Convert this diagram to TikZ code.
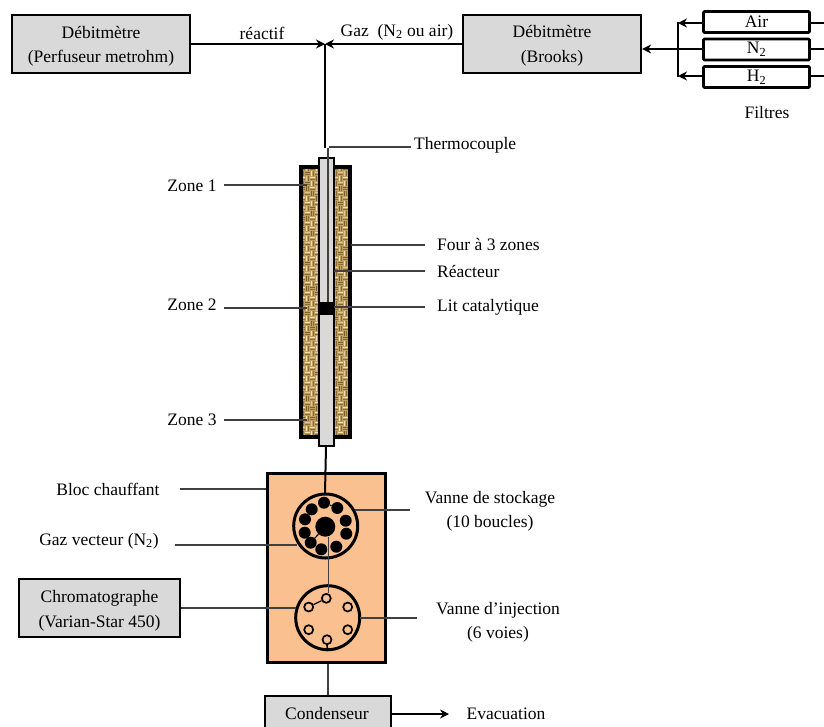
\documentclass[tikz,border=0pt]{standalone}
\usepackage{fontspec}
\setmainfont{Liberation Serif}
\usetikzlibrary{arrows.meta}
\definecolor{boxgray}{HTML}{D9D9D9}
\definecolor{blockor}{HTML}{FBC08F}
\definecolor{woolbase}{HTML}{BFA063}
\definecolor{wooldark}{HTML}{7E5F2A}
\definecolor{woollight}{HTML}{F0E0B0}
\definecolor{linegray}{HTML}{404040}
\tikzset{
 graybox/.style={draw=black,fill=boxgray,line width=2.2pt,minimum width=#1,minimum height=58pt,inner sep=0pt},
 filterbox/.style={draw=black,fill=white,line width=2.8pt,rounded corners=1pt,minimum width=106pt,minimum height=21pt,inner sep=0pt,font=\fontsize{17.5}{17.5}\selectfont},
 lbl/.style={inner sep=0pt,align=center,font=\fontsize{17.5}{24.5}\selectfont},
 conn/.style={draw=black,line width=2pt},
 leader/.style={draw=linegray,line width=1.2pt},
 arr/.style={conn,-{Stealth[length=9pt,width=9pt]}},
 sdot/.style={circle,fill=black,inner sep=0pt,minimum size=12pt},
 odot/.style={circle,draw=black,fill=blockor,line width=1.7pt,inner sep=0pt,minimum size=9pt},
 valve/.style={circle,draw=black,fill=blockor,line width=3pt,inner sep=0pt,minimum size=#1},
}
\newcommand{\woolpatch}[4]{%
 \begin{scope}
 \clip (#1,#2) rectangle (#3,#4);
 \fill[woolbase] (#1,#2) rectangle (#3,#4);
 \pgfmathsetseed{#1}
 \pgfmathtruncatemacro{\nx}{(#3-#1)/5}
 \pgfmathtruncatemacro{\ny}{(#4-#2)/5}
 \foreach \i in {0,...,\nx}{\foreach \j in {0,...,\ny}{
   \pgfmathsetmacro{\cx}{#1+5*\i+2.5}
   \pgfmathsetmacro{\cy}{#2+5*\j+2.5}
   \pgfmathtruncatemacro{\odd}{mod(\i+\j,2)}
   \pgfmathtruncatemacro{\shade}{random(0,3)}
   \ifnum\shade=0 \def\cc{wooldark}\else\ifnum\shade=1 \def\cc{woollight!60!woolbase}\else\def\cc{woollight}\fi\fi
   \ifnum\odd=0
     \draw[\cc,line width=1pt] (\cx-2.5,\cy-1.2) -- (\cx+2.5,\cy-1.2);
     \draw[wooldark!80!woolbase,line width=.8pt] (\cx-2.5,\cy+1.2) -- (\cx+2.5,\cy+1.2);
   \else
     \draw[\cc,line width=1pt] (\cx-1.2,\cy-2.5) -- (\cx-1.2,\cy+2.5);
     \draw[wooldark!80!woolbase,line width=.8pt] (\cx+1.2,\cy-2.5) -- (\cx+1.2,\cy+2.5);
   \fi
 }}
 \end{scope}}
\begin{document}
\begin{tikzpicture}[x=1pt,y=-1pt]
\useasboundingbox (0,0) rectangle (824,726);
\clip (0,0) rectangle (824,726);

% top boxes
\node[graybox=178pt] (deb1) at (101,44) {};
\node[lbl] (tdeb1) at (101,46.5) {Débitmètre\\(Perfuseur metrohm)};
\node[graybox=178pt] (deb2) at (552,44) {};
\node[lbl] (tdeb2) at (552,46) {Débitmètre\\(Brooks)};
\coordinate (junc) at (325,44);
\draw[arr] (deb1.east) -- (junc);
\draw[arr] (deb2.west) -- (junc);
\node[lbl] (lreac) at (262,33) {réactif};
\node[lbl] (lgaz) at (397,32) {Gaz\ \ (N\textsubscript{2} ou air)};

% filters
\node[filterbox] (air) at (756.5,22) {Air};
\node[filterbox] (n2) at (756.5,49.5) {N\textsubscript{2}};
\node[filterbox] (h2) at (756.5,77) {H\textsubscript{2}};
\node[lbl] (lfil) at (767,113) {Filtres};
\coordinate (busA) at (678,23);
\coordinate (busH) at (678,76);
\coordinate (busN) at (703,49);
\draw[arr] (air.west |- busA) -- (busA);
\draw[arr] (h2.west |- busH) -- (busH);
\draw[arr] (n2.west |- busN) -- (deb2.east |- busN);
\draw[conn] (678,22) -- (678,77);
\coordinate (rA) at (824,23); \coordinate (rN) at (824,49); \coordinate (rH) at (824,76);
\draw[conn] (air.east |- rA) -- (rA);
\draw[conn] (n2.east |- rN) -- (rN);
\draw[conn] (h2.east |- rH) -- (rH);

% furnace
\woolpatch{300}{166}{319}{437}
\woolpatch{333}{166}{351}{437}
\draw[black,line width=3.4pt,line join=miter] (319,167) -- (301,167) -- (301,437) -- (319,437);
\draw[black,line width=3.4pt,line join=miter] (333,167) -- (350,167) -- (350,437) -- (333,437);
\node[draw=black,fill=boxgray,line width=2pt,minimum width=15pt,minimum height=288pt,inner sep=0pt] (reactor) at (326,302) {};
\node[fill=black,minimum width=15pt,minimum height=13pt,inner sep=0pt] (cat) at (326,308) {};
\draw[conn] (junc) -- (325,148);
\draw[leader,line width=1.4pt] (328,148) -- (328,302);
\coordinate (thT) at (411,147);
\draw[leader] (329,147) -- (thT);
\node[lbl,anchor=west] (lth) at (414,145) {Thermocouple};

% furnace labels
\node[lbl] (z1) at (192,185.5) {Zone 1};
\node[lbl] (z2) at (192,304.5) {Zone 2};
\node[lbl] (z3) at (192,419.5) {Zone 3};
\draw[leader] (224,185) -- (307,185);
\draw[leader] (224,308) -- (307,308);
\draw[leader] (224,420) -- (307,420);
\node[lbl,anchor=west] (lfour) at (437,244) {Four à 3 zones};
\node[lbl,anchor=west] (lrea) at (437,271) {Réacteur};
\node[lbl,anchor=west] (llit) at (437,307) {Lit catalytique};
\draw[leader] (351,245) -- (425,245);
\draw[leader] (334,271) -- (425,271);
\draw[leader] (334,307) -- (425,307);

% heated block
\node[draw=black,fill=blockor,line width=3pt,minimum width=118pt,minimum height=189pt,inner sep=0pt] (block) at (326,567.5) {};
\draw[conn] (reactor.south) -- (325,493);

\node[valve=64pt] (v1) at (325.7,526) {};
\node[valve=64pt] (v2) at (327.7,617.7) {};
\node[sdot] (a1) at (324,502.7) {};
\node[sdot] (a2) at (337.3,508) {};
\node[sdot] (a3) at (345.7,520.7) {};
\node[sdot] (a4) at (346.3,533.7) {};
\node[sdot] (a5) at (336.3,546.7) {};
\node[sdot] (a6) at (321.3,549.3) {};
\node[sdot] (a7) at (310.7,542.7) {};
\node[sdot] (a8) at (304.7,532.7) {};
\node[sdot] (a9) at (305,519.3) {};
\node[sdot] (a10) at (311.7,509.3) {};
\node[circle,fill=black,inner sep=0pt,minimum size=20pt] (c1) at (325.3,526.7) {};
\draw[black,line width=1.2pt] (a1) -- (a2);
\draw[black,line width=1.2pt] (a7) -- (c1);
\node[odot] (b1) at (326.3,598.3) {};
\node[odot] (b2) at (308.7,607) {};
\node[odot] (b3) at (347.7,607) {};
\node[odot] (b4) at (308.7,629.7) {};
\node[odot] (b5) at (347.7,629.7) {};
\node[odot] (b6) at (327,639.7) {};
\draw[black,line width=1.2pt] (b1) -- (b2);
\draw[leader,line width=1.4pt] (328.3,537) -- (b1.north -| 328.3,0);
\draw[conn,line width=1.6pt] (b6.south) -- (v2.south);

% block labels
\node[lbl] (lbloc) at (108,489) {Bloc chauffant};
\draw[leader] (180,489) -- (block.west |- 0,489);
\node[lbl] (lvec) at (99,541) {Gaz vecteur (N\textsubscript{2})};
\draw[leader] (175,545) -- (297,545);
\node[lbl] (lsto) at (490,511.5) {Vanne de stockage\\(10 boucles)};
\draw[leader] (355,510) -- (410,510);
\node[graybox=161pt] (chrom) at (99.5,608) {};
\node[lbl] (tchrom) at (99.5,611) {Chromatographe\\(Varian-Star 450)};
\draw[leader] (chrom.east) -- (296,608);
\node[lbl] (linj) at (498,622.5) {Vanne d’injection\\(6 voies)};
\draw[leader] (360,618) -- (417,618);

% condenser
\node[graybox=126pt,anchor=north west] (cond) at (264,695) {};
\node[lbl] (lcond) at (327,714) {Condenseur};
\draw[leader] (block.south -| 328,0) -- (cond.north -| 328,0);
\coordinate (evac) at (449,714);
\draw[black,line width=1.3pt,-{Stealth[length=9pt,width=9pt]}] (cond.east |- evac) -- (evac);
\node[lbl] (lev) at (506,714) {Evacuation};
\end{tikzpicture}
\end{document}
